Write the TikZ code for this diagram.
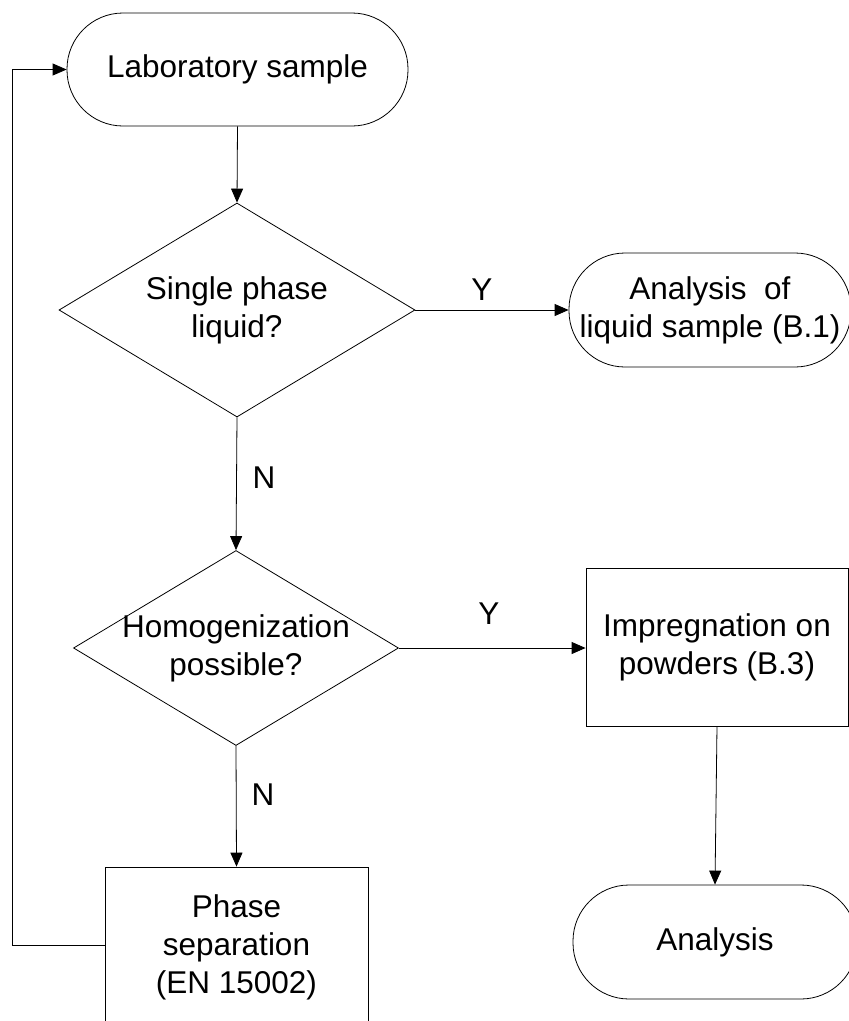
\documentclass[tikz,border=0pt]{standalone}
\usepackage{fontspec}
\setmainfont{Liberation Sans}
\usetikzlibrary{shapes.geometric,arrows.meta}
\begin{document}
\begin{tikzpicture}[x=1pt,y=-1pt,
  every node/.style={font=\fontsize{31.5}{38}\selectfont, align=center, inner sep=0pt},
  term/.style={draw, line width=0.8pt, minimum height=113pt, rounded corners=56pt},
  proc/.style={draw, line width=0.8pt},
  dec/.style={draw, line width=0.8pt, diamond},
  lbl/.style={font=\fontsize{31.5}{38}\selectfont},
  conn/.style={line width=0.8pt, -{Triangle[length=14pt,width=12pt]}}]
\useasboundingbox (0,0) rectangle (849,1021);
\clip (0,0) rectangle (849,1021);
\node[term, minimum width=341pt] (lab) at (237.5,69.5) {Laboratory sample};
\node[dec, minimum width=356pt, minimum height=214pt] (d1) at (237,310) {};
\node (d1t) at (d1) {Single phase\\liquid?};
\node[term, minimum width=282pt, minimum height=114pt] (liq) at (710,310) {Analysis\ \ of\\liquid sample (B.1)};
\node[dec, minimum width=325pt, minimum height=195pt] (d2) at (236,648) {};
\node (d2t) at (d2) {Homogenization\\possible?};
\node[proc, minimum width=262pt, minimum height=158pt] (imp) at (717,647) {Impregnation on\\powders (B.3)};
\node[term, minimum width=284pt, minimum height=114pt] (ana) at (715,942) {Analysis};
\node[proc, minimum width=263pt, minimum height=160pt] (ps) at (236.5,947) {Phase\\separation\\(EN 15002)};
\coordinate (fbA) at (12,945);
\coordinate (fbB) at (12,69.5);
\node[lbl] (y1) at (482,290) {Y};
\node[lbl] (y2) at (489,614) {Y};
\node[lbl] (n1) at (264,478) {N};
\node[lbl] (n2) at (263,795) {N};
\draw[conn] (lab.south) -- (d1.north);
\draw[conn] (d1.east) -- (liq.west);
\draw[conn] (d1.south) -- (d2.north);
\draw[conn] (d2.east) -- (d2.east -| imp.west);
\draw[conn] (d2.south) -- (ps.north);
\draw[conn] (imp.south) -- (ana.north);
\draw[conn] (ps.west |- fbA) -- (fbA) -- (fbB) -- (lab.west);
\end{tikzpicture}
\end{document}
